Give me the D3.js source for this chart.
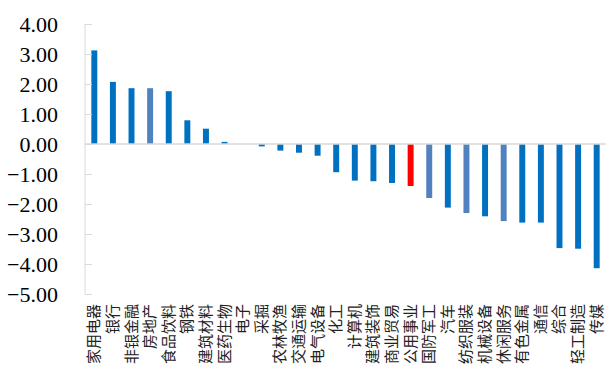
<!DOCTYPE html>
<html>
<head>
<meta charset="utf-8">
<script src="https://cdn.jsdelivr.net/npm/d3@7"></script>
<style>
  html, body { margin: 0; padding: 0; background: #fff; }
  svg { display: block; }
</style>
</head>
<body>
<svg id="chart" width="606" height="367"></svg>
<script>
// Sector returns (%), sorted high to low
const sectors = ["家用电器","银行","非银金融","房地产","食品饮料","钢铁","建筑材料","医药生物","电子","采掘",
  "农林牧渔","交通运输","电气设备","化工","计算机","建筑装饰","商业贸易","公用事业","国防军工","汽车",
  "纺织服装","机械设备","休闲服务","有色金属","通信","综合","轻工制造","传媒"];
const returns = [3.12, 2.07, 1.86, 1.86, 1.76, 0.79, 0.51, 0.07, 0.00, -0.08,
  -0.22, -0.29, -0.39, -0.94, -1.22, -1.24, -1.30, -1.40, -1.80, -2.12,
  -2.30, -2.41, -2.57, -2.62, -2.62, -3.47, -3.49, -4.14];
const yTicks = [4, 3, 2, 1, 0, -1, -2, -3, -4, -5];
// Sectors shown in the secondary tone, and the one highlighted in red
const softSectors = ["房地产","国防军工","纺织服装","休闲服务"];
const keySector = "公用事业";

const svg = d3.select("#chart");
const plotLeft = 85, plotRight = 606, plotTop = 24, plotBottom = 294;

const x = d3.scaleBand().domain(sectors).range([plotLeft, plotRight]).paddingInner(0.68).paddingOuter(0.34);
const y = d3.scaleLinear().domain([-5, 4]).range([plotBottom, plotTop]);

const colour = name => name === keySector ? "#ff0000" : (softSectors.includes(name) ? "#5181be" : "#0070c0");

// bars
svg.append("g").selectAll("rect").data(sectors).join("rect")
  .attr("x", d => x(d))
  .attr("width", x.bandwidth())
  .attr("y", (d, i) => y(Math.max(0, returns[i])))
  .attr("height", (d, i) => Math.abs(y(returns[i]) - y(0)))
  .attr("fill", d => colour(d));

// value axis
const yAxis = svg.append("g").attr("transform", `translate(${plotLeft},0)`)
  .call(d3.axisRight(y).tickValues(yTicks).tickSize(7).tickFormat(d3.format(".2f")));
yAxis.select(".domain").attr("stroke", "#d9d9d9").attr("d", `M0,${plotTop}V${plotBottom}`);
yAxis.selectAll(".tick line").attr("stroke", "#d9d9d9");
yAxis.selectAll(".tick text")
  .attr("x", -27).attr("text-anchor", "end").attr("dy", "0.35em")
  .attr("fill", "#000")
  .style("font-family", "'Liberation Serif', 'Times New Roman', serif")
  .style("font-size", "22px");

// zero line
svg.append("line")
  .attr("x1", plotLeft).attr("x2", plotRight)
  .attr("y1", y(0)).attr("y2", y(0))
  .attr("stroke", "#d9d9d9").attr("stroke-width", 1.5);

// category labels, rotated, hanging below the plot
svg.append("g").selectAll("text").data(sectors).join("text")
  .attr("transform", d => `translate(${x(d) + x.bandwidth() / 2 + 5},${plotBottom + 10}) rotate(-90)`)
  .attr("text-anchor", "end")
  .attr("fill", "#222")
  .style("font-family", "'Noto Sans CJK SC', sans-serif")
  .style("font-size", "15px")
  .text(d => d);
</script>
</body>
</html>
